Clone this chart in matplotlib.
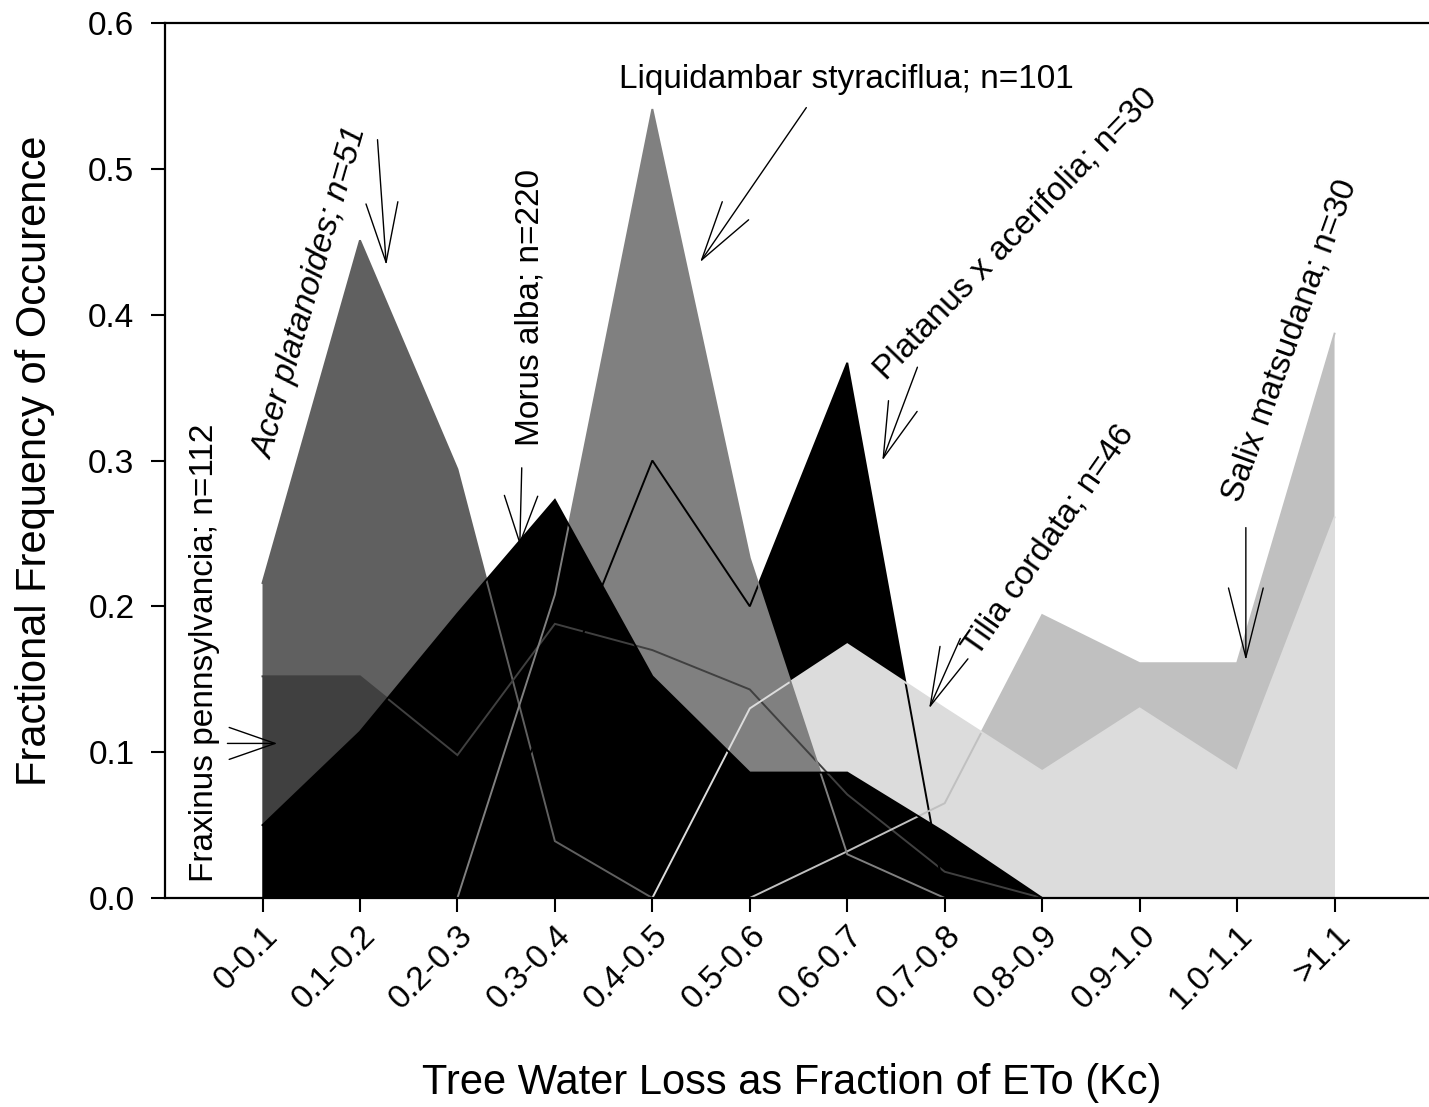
import matplotlib
matplotlib.use('Agg')
import matplotlib.pyplot as plt

plt.rcParams['font.family'] = ['Liberation Sans', 'DejaVu Sans']

kc_classes = ['0-0.1', '0.1-0.2', '0.2-0.3', '0.3-0.4', '0.4-0.5', '0.5-0.6',
              '0.6-0.7', '0.7-0.8', '0.8-0.9', '0.9-1.0', '1.0-1.1', '>1.1']

# fractional frequency of occurrence in each Kc class, per species
acer = [0.216, 0.451, 0.294, 0.039, 0, 0, 0, 0, 0, 0, 0, 0]
fraxinus = [0.152, 0.152, 0.098, 0.188, 0.170, 0.143, 0.071, 0.018, 0, 0, 0, 0]
platanus = [0, 0, 0, 0.133, 0.300, 0.200, 0.367, 0, 0, 0, 0, 0]
salix = [0, 0, 0, 0, 0, 0, 0.032, 0.065, 0.194, 0.161, 0.161, 0.387]
tilia = [0, 0, 0, 0, 0, 0.130, 0.174, 0.130, 0.087, 0.130, 0.087, 0.261]
liquidambar = [0, 0, 0, 0.208, 0.541, 0.233, 0.030, 0, 0, 0, 0, 0]
morus = [0.050, 0.114, 0.195, 0.273, 0.152, 0.086, 0.086, 0.045, 0, 0, 0, 0]

# drawn back to front
layers = [
    (acer, '#606060'),
    (fraxinus, '#404040'),
    (platanus, '#000000'),
    (salix, '#c0c0c0'),
    (tilia, '#dcdcdc'),
    (liquidambar, '#808080'),
    (morus, '#000000'),
]

# label text, text position, rotation, italic, arrow tail, arrow tip, head (length, width)
labels = [
    ('Fraxinus pennsylvancia; n=112', (-0.595, 0.168), 90, False,
     (-0.36, 0.106), (0.15, 0.106), (3.3, 1.15)),
    ('Acer platanoides; n=51', (0.50, 0.415), 74, True,
     (1.18, 0.520), (1.27, 0.434), (4.3, 1.15)),
    ('Morus alba; n=220', (2.74, 0.405), 90, False,
     (2.66, 0.295), (2.64, 0.242), (3.4, 1.2)),
    ('Liquidambar styraciflua; n=101', (5.99, 0.561), 0, False,
     (5.58, 0.542), (4.49, 0.436), (4.3, 1.15)),
    ('Platanus x acerifolia; n=30', (7.73, 0.455), 46, False,
     (6.72, 0.364), (6.36, 0.300), (4.0, 1.1)),
    ('Tilia cordata; n=46', (8.07, 0.245), 55, False,
     (7.16, 0.178), (6.84, 0.130), (4.2, 1.1)),
    ('Salix matsudana; n=30', (10.54, 0.382), 70, False,
     (10.09, 0.254), (10.09, 0.163), (5.0, 1.25)),
]

fig = plt.figure(figsize=(14.29, 11.07), dpi=100)
ax = fig.add_axes([0.1155, 0.1888, 0.8866, 0.7904])

x = list(range(len(kc_classes)))

for values, color in layers:
    ax.fill_between(x, 0, values, facecolor=color, edgecolor='none',
                    linewidth=0, zorder=2)

# outlines of every series sit above all the fills
for values, color in layers:
    ax.plot(x, values, color=color, linewidth=1.4, zorder=3,
            solid_joinstyle='miter')

for text, pos, rot, italic, tail, tip, head in labels:
    ax.text(pos[0], pos[1], text, rotation=rot, rotation_mode='anchor',
            ha='center', va='center', fontsize=24,
            style='italic' if italic else 'normal', zorder=5)
    ax.annotate('', xy=tip, xytext=tail,
                arrowprops=dict(arrowstyle='->,head_length=%.2f,head_width=%.2f' % head,
                                color='black', lw=1.0, shrinkA=0, shrinkB=0,
                                mutation_scale=10),
                zorder=5)

ax.set_xlim(-1.0, 12.0)
ax.set_ylim(0, 0.6)
ax.set_xticks(x)
ax.set_xticklabels(kc_classes, rotation=45, ha='right', va='top',
                   rotation_mode='anchor')
ax.set_yticks([0.0, 0.1, 0.2, 0.3, 0.4, 0.5, 0.6])
ax.set_yticklabels(['0.0', '0.1', '0.2', '0.3', '0.4', '0.5', '0.6'])

ax.tick_params(axis='both', direction='out', length=10, width=1.5,
               labelsize=24, color='black')
ax.tick_params(axis='x', pad=6)
ax.tick_params(axis='y', pad=12)

for side in ['left', 'bottom', 'top']:
    ax.spines[side].set_linewidth(1.6)
    ax.spines[side].set_zorder(6)
ax.spines['right'].set_visible(False)

ax.set_xlabel('Tree Water Loss as Fraction of ETo (Kc)', fontsize=30)
ax.set_ylabel('Fractional Frequency of Occurence', fontsize=30)
ax.xaxis.set_label_coords(0.495, -0.211)
ax.xaxis.label.set_va('center')
ax.yaxis.set_label_coords(-0.1026, 0.5)
ax.yaxis.label.set_va('center')

fig.savefig('out.png', dpi=100)
